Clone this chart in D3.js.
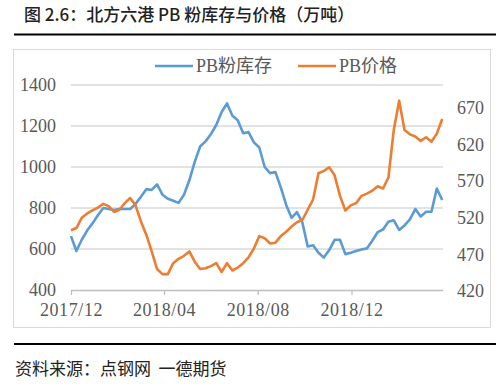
<!DOCTYPE html>
<html><head><meta charset="utf-8">
<script src="https://cdn.jsdelivr.net/npm/d3@7"></script>
<style>
html,body{margin:0;padding:0;background:#fff;}
svg{display:block;}
</style></head>
<body><svg id="c" width="500" height="388"></svg>
<script>
const titleText = "图 2.6：北方六港 PB 粉库存与价格（万吨）";
const sourceText = "资料来源：点钢网  一德期货";
const seriesNames = ["PB粉库存", "PB价格"];
const startDate = "2017-12-01";
const inventory = [663,590,645,690,725,765,800,795,790,795,795,795,820,855,892,888,915,865,845,835,825,865,935,1025,1100,1125,1160,1205,1268,1310,1250,1228,1165,1170,1120,1095,1000,970,975,900,815,752,780,730,612,618,582,558,595,645,645,575,582,590,598,603,640,682,695,733,740,693,715,745,795,758,782,782,895,839];
const price = [503,506,520,526,530,534,539,536,528,531,540,547,537,515,497,474,450,443,443,458,464,468,474,460,450,451,454,458,446,458,448,452,458,466,478,495,492,485,486,495,501,508,514,517,531,545,581,584,589,578,550,530,537,540,550,553,557,563,560,575,640,680,640,634,631,625,630,624,635,655];
const leftTicks = [400,600,800,1000,1200,1400];
const rightTicks = [420,470,520,570,620,670];
const xTickDates = ["2017-12-01","2018-04-01","2018-08-01","2018-12-01"];
const xTickLabels = ["2017/12","2018/04","2018/08","2018/12"];

const parse = d3.utcParse("%Y-%m-%d");
const t0 = parse(startDate);
const dates = inventory.map((_, i) => d3.utcDay.offset(t0, 7 * i));

const svg = d3.select("#c");
const serif = "'Liberation Serif','Noto Sans CJK SC',serif";
const cjk = "'Noto Sans CJK SC','Noto Sans',sans-serif";

// title
svg.append("text").attr("x", 24).attr("y", 21).attr("font-family", cjk)
  .attr("font-size", 17).attr("font-weight", 500).attr("fill", "#222").text(titleText);
svg.append("line").attr("x1", 14).attr("x2", 496).attr("y1", 34.5).attr("y2", 34.5)
  .attr("stroke", "#000").attr("stroke-width", 2);
// frame
svg.append("rect").attr("x", 13.5).attr("y", 49.5).attr("width", 477).attr("height", 278)
  .attr("fill", "none").attr("stroke", "#d9d9d9").attr("stroke-width", 1);

const x = d3.scaleUtc().domain([t0, dates[dates.length - 1]]).range([71, 442.2]);
const yL = d3.scaleLinear().domain([400, 1400]).range([290, 85]);
const yR = d3.scaleLinear().domain([420, 670]).range([291, 108]);

// gridlines
svg.append("g").selectAll("line").data(leftTicks.slice(1)).join("line")
  .attr("x1", 71).attr("x2", 443).attr("y1", d => yL(d)).attr("y2", d => yL(d))
  .attr("stroke", "#d9d9d9").attr("stroke-width", 1.3);

// left axis
const gl = svg.append("g").attr("transform", "translate(56,0)")
  .call(d3.axisLeft(yL).tickValues(leftTicks).tickSize(0).tickPadding(0).tickFormat(d3.format("d")));
gl.select(".domain").remove();
gl.selectAll("text").attr("font-family", serif).attr("font-size", 18).attr("fill", "#595959");

// right axis
const gr = svg.append("g").attr("transform", "translate(457,0)")
  .call(d3.axisRight(yR).tickValues(rightTicks).tickSize(0).tickPadding(0).tickFormat(d3.format("d")));
gr.select(".domain").remove();
gr.selectAll("text").attr("font-family", serif).attr("font-size", 18).attr("fill", "#595959");

// bottom axis
const gb = svg.append("g").attr("transform", "translate(0,290)")
  .call(d3.axisBottom(x).tickValues(xTickDates.map(parse)).tickSize(5).tickPadding(8)
    .tickFormat((d, i) => xTickLabels[i]));
gb.select(".domain").attr("d", "M71,0.5H443").attr("stroke", "#bfbfbf").attr("stroke-width", 1.3);
gb.selectAll(".tick line").attr("stroke", "#bfbfbf").attr("stroke-width", 1.3);
gb.selectAll("text").attr("font-family", serif).attr("font-size", 18).attr("fill", "#595959")
  .attr("letter-spacing", 0.6);

// lines
const lineL = d3.line().x((d, i) => x(dates[i])).y(d => yL(d));
const lineR = d3.line().x((d, i) => x(dates[i])).y(d => yR(d));
svg.append("path").datum(inventory).attr("d", lineL).attr("fill", "none")
  .attr("stroke", "#5b9bd5").attr("stroke-width", 2.6).attr("stroke-linejoin", "round");
svg.append("path").datum(price).attr("d", lineR).attr("fill", "none")
  .attr("stroke", "#ed7d31").attr("stroke-width", 2.6).attr("stroke-linejoin", "round");

// legend
const colors = ["#5b9bd5", "#ed7d31"];
const legX = [155, 298];
seriesNames.forEach((n, i) => {
  svg.append("line").attr("x1", legX[i]).attr("x2", legX[i] + 38).attr("y1", 66).attr("y2", 66)
    .attr("stroke", colors[i]).attr("stroke-width", 2.6);
  svg.append("text").attr("x", legX[i] + 41).attr("y", 72).attr("font-family", serif)
    .attr("font-size", 18).attr("fill", "#595959").text(n);
});

// source
svg.append("line").attr("x1", 14).attr("x2", 496).attr("y1", 344).attr("y2", 344)
  .attr("stroke", "#000").attr("stroke-width", 2);
svg.append("text").attr("x", 15).attr("y", 375).attr("font-family", cjk)
  .attr("font-size", 17).attr("fill", "#222").style("white-space", "pre").text(sourceText);
</script></body></html>
